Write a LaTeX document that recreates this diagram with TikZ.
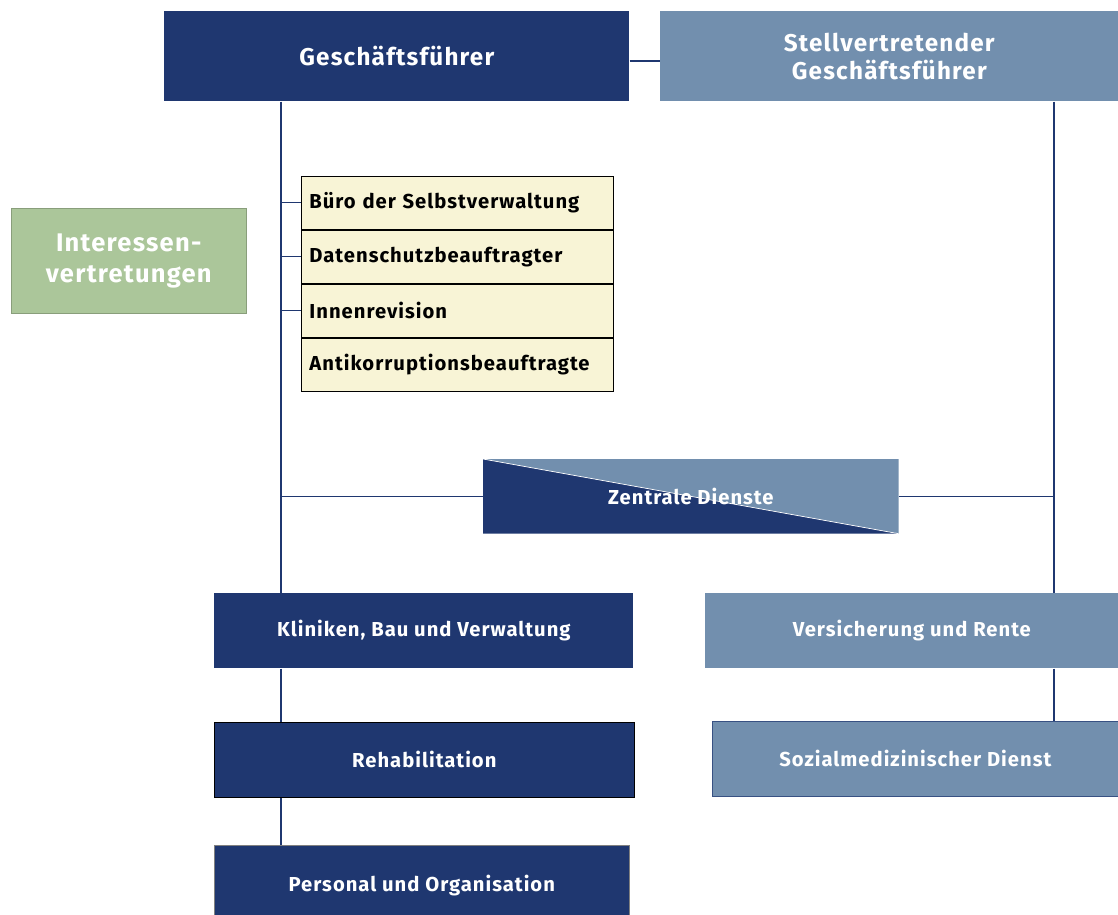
\documentclass[tikz,border=0pt]{standalone}
\usepackage{fontspec}
\setsansfont{Fira Sans}[LetterSpace=5]
\usepackage{xcolor}
\usepackage{tikz}
\usetikzlibrary{positioning, calc, backgrounds}

\definecolor{navy}{RGB}{31,55,112}
\definecolor{steel}{RGB}{114,143,174}
\definecolor{sage}{RGB}{171,198,154}
\definecolor{cream}{RGB}{248,244,214}

\begin{document}
\begin{tikzpicture}[
    x=0.02cm, y=-0.02cm,
    box/.style={anchor=north west, inner sep=0pt, align=center, text=white,
      font=\sffamily\bfseries\fontsize{11.5}{13.5}\selectfont},
    head/.style={minimum height=1.8cm, font=\sffamily\bfseries\fontsize{13.8}{16}\selectfont},
    dark/.style={box, fill=navy},
    light/.style={box, fill=steel},
    unit/.style={minimum height=1.5cm},
    staff/.style={draw=black, line width=0.5pt, fill=cream, text=black, anchor=north west,
      minimum width=6.24cm, minimum height=1.06cm, text width=5.92cm, align=left,
      inner xsep=0.16cm, inner ysep=0pt, font=\sffamily\bfseries\fontsize{11.5}{13.5}\selectfont},
    trunk/.style={draw=navy, line width=1.1pt},
    tick/.style={draw=navy, line width=0.6pt},
  ]
  \useasboundingbox (0,0) rectangle (1118,915);

  % Leitung
  \node[dark, head, minimum width=9.3cm] (gf) at (164,11) {Geschäftsführer};
  \node[light, head, minimum width=9.16cm] (stv) at (660,11) {Stellvertretender\\Geschäftsführer};

  % Trunk positions
  \coordinate (trunkL) at (281,101);
  \coordinate (trunkR) at (1054,101);

  % Stabsstellen
  \node[staff] (buero) at (301,176) {Büro der Selbstverwaltung};
  \node[staff, below=0cm of buero] (daten) {Datenschutzbeauftragter};
  \node[staff, below=0cm of daten] (revision) {Innenrevision};
  \node[staff, below=0cm of revision] (korrupt) {Antikorruptionsbeauftragte};

  % Interessenvertretungen
  \node[box, fill=sage, draw=sage!80!black, line width=0.3pt, minimum width=4.7cm, minimum height=2.1cm,
    font=\sffamily\bfseries\fontsize{14.5}{17.5}\selectfont] (iv) at (11,208) {Interessen-\\vertretungen};

  % Zentrale Dienste (split fill)
  \node[box, minimum width=8.3cm, minimum height=1.48cm] (zd) at (483,459) {Zentrale Dienste};
  \begin{scope}[on background layer]
    \fill[steel] (zd.north west) -- (zd.north east) -- (zd.south east) -- cycle;
    \fill[navy] (zd.north west) -- (zd.south east) -- (zd.south west) -- cycle;
    \draw[white, line width=0.4pt] (zd.north west) -- (zd.south east);
  \end{scope}

  % Abteilungen
  \node[dark, unit, minimum width=8.38cm] (klinik) at (214,593) {Kliniken, Bau und Verwaltung};
  \node[dark, unit, draw=black, line width=0.4pt, minimum width=8.4cm] (reha) at (214,722) {Rehabilitation};
  \node[dark, unit, draw=gray, line width=0.4pt, minimum width=8.3cm, minimum height=1.6cm] (personal) at (214,845) {Personal und Organisation};
  \node[light, unit, minimum width=8.26cm] (vers) at (705,593) {Versicherung und Rente};
  \node[light, unit, draw=navy!70!steel, line width=0.4pt, minimum width=8.12cm] (sozial) at (712,721) {Sozialmedizinischer Dienst};

  % Connectors
  \draw[trunk] ([yshift=-0.1cm]gf.east) -- ([yshift=-0.1cm]stv.west);
  \draw[trunk] (gf.south -| trunkL) -- (klinik.north -| trunkL);
  \draw[trunk] (klinik.south -| trunkL) -- (reha.north -| trunkL);
  \draw[trunk] (reha.south -| trunkL) -- (personal.north -| trunkL);
  \draw[trunk] (stv.south -| trunkR) -- (vers.north -| trunkR);
  \draw[trunk] (vers.south -| trunkR) -- (sozial.north -| trunkR);

  \draw[tick] (buero.west -| trunkL) -- (buero.west);
  \draw[tick] (daten.west -| trunkL) -- (daten.west);
  \draw[tick] (revision.west -| trunkL) -- (revision.west);
  \draw[tick] (zd.west -| trunkL) -- (zd.west);
  \draw[tick] (zd.east) -- (zd.east -| trunkR);

\end{tikzpicture}
\end{document}
